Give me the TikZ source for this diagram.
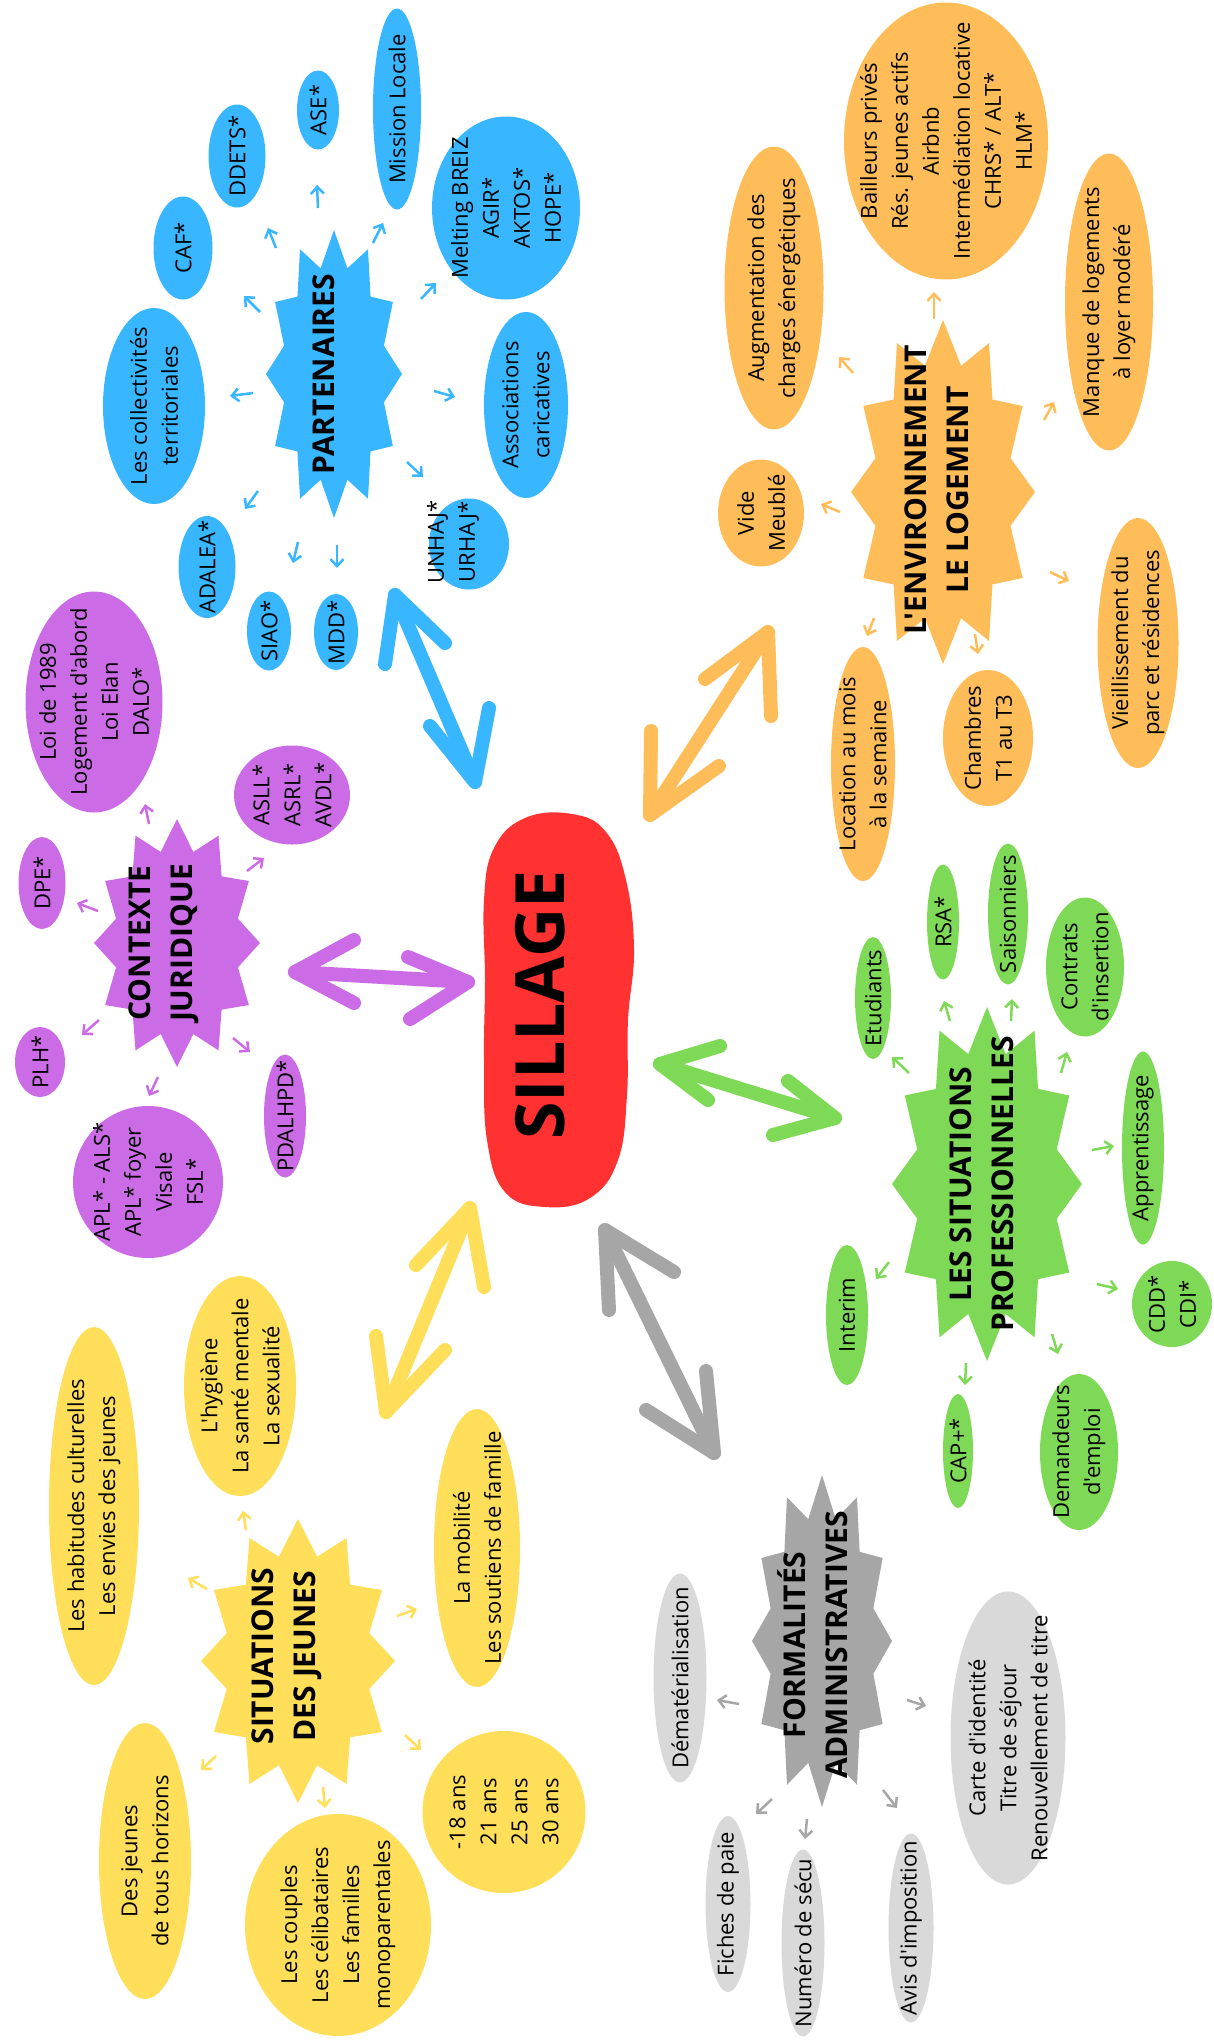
\documentclass[tikz,border=0pt]{standalone}
\usepackage{fontspec}
\setmainfont{Open Sans}[Ligatures=TeXOff]
\usetikzlibrary{shapes.geometric,arrows.meta,calc}
\definecolor{cblue}{HTML}{38B6FF}
\definecolor{corange}{HTML}{FFBD59}
\definecolor{cpurple}{HTML}{CB6CE6}
\definecolor{cgreen}{HTML}{7ED957}
\definecolor{cyellow}{HTML}{FFDE59}
\definecolor{cgray}{HTML}{A6A6A6}
\definecolor{clgray}{HTML}{D9D9D9}
\definecolor{cred}{HTML}{FF3131}
\tikzset{
  bubshape/.style={ellipse, draw=none, inner sep=0pt},
  txt/.style={rotate=90, align=center, inner sep=0pt, font=\fontsize{22}{31}\selectfont},
  ttl/.style={rotate=90, align=center, inner sep=0pt, font=\bfseries\fontsize{30}{42}\selectfont},
  sarr/.style={line width=2.5pt, -{Straight Barb[length=7pt,width=13pt]}},
  barr/.style={line width=14pt, line cap=round, line join=round},
}
% name, color, x, y, w, h, text
\newcommand\bub[7]{%
  \node[bubshape, fill=#2, minimum width=#5pt, minimum height=#6pt] (#1) at (#3,#4) {};
  \node[txt] (#1t) at (#1) {#7};}
% name, color, cx, cy, rx, ry
\newcommand\starfill[6]{%
  \coordinate (#1) at (#3,#4);
  \fill[#2] plot[samples at={0,...,23}, variable=\k]
    ({#3+#5*(mod(\k,2)==0 ? 1 : 0.76)*cos(\k*15)}, {#4+#6*(mod(\k,2)==0 ? 1 : 0.76)*sin(\k*15)}) -- cycle;}
\newcommand\sarw[3]{\draw[sarr] ($(#1)+(#2)$) -- ++(#3);}
% color, A, wA1, wA2, B, wB1, wB2
\newcommand\barw[7]{%
  \draw[barr,#1] (#3) -- (#2) -- (#4);
  \draw[barr,#1] (#2) -- (#5);
  \draw[barr,#1] (#6) -- (#5) -- (#7);}
\begin{document}
\begin{tikzpicture}[x=1pt,y=-1pt]
\fill[white] (0,0) rectangle (1213,2040);
\useasboundingbox (0,0) rectangle (1213,2040);

% ---------- SILLAGE ----------
\fill[cred] plot[smooth cycle, tension=0.7] coordinates {(525,818) (572,814) (606,832) (626,880) (634,950) (628,1020) (627,1095) (618,1160) (590,1198) (545,1207) (505,1192) (487,1140) (484,1060) (485,980) (484,900) (494,848)};
\node[rotate=90, inner sep=0pt, font=\bfseries\fontsize{68}{68}\selectfont] (sil) at (540,1005) {SILLAGE};

% ---------- PARTENAIRES (blue) ----------
\starfill{part}{cblue}{334}{374}{68}{144}
\node[ttl] (partt) at (324,374) {PARTENAIRES};
\bub{ml}{cblue}{397}{109}{48}{201}{Mission Locale}
\bub{ase}{cblue}{318}{110}{42}{79}{ASE*}
\bub{ddets}{cblue}{237}{156}{57}{103}{DDETS*}
\bub{caf}{cblue}{183}{248}{59}{103}{CAF*}
\bub{coll}{cblue}{154}{406}{102}{196}{Les collectivités\\territoriales}
\bub{adalea}{cblue}{207}{567}{57}{102}{ADALEA*}
\bub{siao}{cblue}{269}{631}{44}{79}{SIAO*}
\bub{mdd}{cblue}{336}{632}{44}{76}{MDD*}
\node[bubshape, fill=cblue, minimum width=80pt, minimum height=91pt] (unhaj) at (469,544) {};
\node[txt] (unhajt) at (453,542) {UNHAJ*\\URHAJ*};
\bub{assoc}{cblue}{526}{405}{84}{186}{Associations\\caricatives}
\bub{melt}{cblue}{506}{208}{148}{183}{Melting BREIZ\\AGIR*\\AKTOS*\\HOPE*}
\begin{scope}[cblue]
\sarw{part}{39,-131}{10,-20}
\sarw{part}{-16,-166}{-1,-23}
\sarw{part}{-58,-126}{-8,-20}
\sarw{part}{-74,-62}{-16,-16}
\sarw{part}{-81,19}{-23,3}
\sarw{part}{-76,117}{-13,18}
\sarw{part}{-36,168}{-5,21}
\sarw{part}{3,171}{0,23}
\sarw{part}{73,88}{16,15}
\sarw{part}{100,17}{21,6}
\sarw{part}{87,-75}{15,-16}
\end{scope}

% ---------- ENVIRONNEMENT (orange) ----------
\starfill{env}{corange}{943}{492}{92}{172}
\node[ttl] (envt) at (937,490) {L'ENVIRONNEMENT\\LE LOGEMENT};
\bub{bail}{corange}{946}{141}{204}{277}{Bailleurs privés\\Rés. jeunes actifs\\Airbnb\\Intermédiation locative\\CHRS* / ALT*\\HLM*}
\bub{aug}{corange}{774}{288}{99}{283}{Augmentation des\\charges énergétiques}
\bub{vide}{corange}{761}{513}{86}{107}{Vide\\Meublé}
\bub{manque}{corange}{1109}{302}{88}{297}{Manque de logements\\à loyer modéré}
\bub{vieil}{corange}{1138}{643}{81}{250}{Vieillissement du\\parc et résidences}
\bub{loc}{corange}{863}{764}{64}{234}{Location au mois\\à la semaine}
\bub{chamb}{corange}{988}{738}{90}{136}{Chambres\\T1 au T3}
\begin{scope}[corange]
\sarw{env}{-9,-173}{0,-27}
\sarw{env}{-90,-119}{-14,-16}
\sarw{env}{-103,20}{-19,-8}
\sarw{env}{101,-72}{10,-18}
\sarw{env}{107,80}{19,9}
\sarw{env}{-69,126}{-7,18}
\sarw{env}{32,142}{3,20}
\end{scope}

% ---------- CONTEXTE JURIDIQUE (purple) ----------
\starfill{ctx}{cpurple}{177}{943}{83}{124}
\node[ttl] (ctxt) at (164,943) {CONTEXTE\\JURIDIQUE};
\bub{loi}{cpurple}{94}{702}{137}{221}{Loi de 1989\\Logement d'abord\\Loi Elan\\DALO*}
\bub{dpe}{cpurple}{42}{883}{47}{92}{DPE*}
\bub{plh}{cpurple}{40}{1062}{50}{70}{PLH*}
\bub{apl}{cpurple}{148}{1182}{150}{152}{APL* - ALS*\\APL* foyer\\Visale\\FSL*}
\bub{pdal}{cpurple}{285}{1116}{42}{123}{PDALHPD*}
\bub{asll}{cpurple}{292}{795}{116}{99}{ASLL*\\ASRL*\\AVDL*}
\begin{scope}[cpurple]
\sarw{ctx}{-28,-119}{-4,-20}
\sarw{ctx}{-79,-32}{-21,-8}
\sarw{ctx}{-78,77}{-17,15}
\sarw{ctx}{-19,134}{-9,19}
\sarw{ctx}{56,95}{17,14}
\sarw{ctx}{70,-72}{17,-13}
\end{scope}

% ---------- SITUATIONS PROFESSIONNELLES (green) ----------
\starfill{pro}{cgreen}{987}{1184}{95}{177}
\node[ttl] (prot) at (982,1184) {LES SITUATIONS\\PROFESSIONNELLES};
\bub{etu}{cgreen}{873}{998}{36}{122}{Etudiants}
\bub{rsa}{cgreen}{943}{922}{32}{115}{RSA*}
\bub{sais}{cgreen}{1008}{914}{40}{141}{Saisonniers}
\bub{contr}{cgreen}{1085}{967}{78}{139}{Contrats\\d'insertion}
\bub{appr}{cgreen}{1143}{1148}{42}{193}{Apprentissage}
\bub{cdd}{cgreen}{1172}{1304}{80}{86}{CDD*\\CDI*}
\bub{inter}{cgreen}{847}{1315}{42}{140}{Interim}
\bub{cap}{cgreen}{958}{1451}{30}{114}{CAP+*}
\bub{dem}{cgreen}{1079}{1452}{78}{156}{Demandeurs\\d'emploi}
\begin{scope}[cgreen]
\sarw{pro}{-78,-111}{-17,-16}
\sarw{pro}{-37,-163}{-6,-20}
\sarw{pro}{24,-163}{1,-22}
\sarw{pro}{74,-111}{6,-21}
\sarw{pro}{105,-34}{22,-4}
\sarw{pro}{110,100}{21,5}
\sarw{pro}{-98,78}{-13,17}
\sarw{pro}{65,150}{6,20}
\sarw{pro}{-21,179}{-1,22}
\end{scope}

% ---------- SITUATIONS DES JEUNES (yellow) ----------
\starfill{jeu}{cyellow}{298}{1661}{97}{142}
\node[ttl] (jeut) at (287,1656) {SITUATIONS\\DES JEUNES};
\bub{habit}{cyellow}{94}{1506}{90}{358}{Les habitudes culturelles\\Les envies des jeunes}
\bub{hyg}{cyellow}{240}{1386}{112}{220}{L'hygiène\\La santé mentale\\La sexualité}
\bub{mob}{cyellow}{477}{1548}{86}{278}{La mobilité\\Les soutiens de famille}
\bub{desj}{cyellow}{145}{1861}{92}{276}{Des jeunes\\de tous horizons}
\bub{coup}{cyellow}{338}{1925}{186}{222}{Les couples\\Les célibataires\\Les familles\\monoparentales}
\bub{age}{cyellow}{504}{1812}{163}{162}{-18 ans\\21 ans\\25 ans\\30 ans}
\begin{scope}[cyellow]
\sarw{jeu}{-52,-131}{-3,-19}
\sarw{jeu}{-91,-72}{-19,-11}
\sarw{jeu}{99,-45}{20,-7}
\sarw{jeu}{107,74}{16,15}
\sarw{jeu}{25,126}{2,21}
\sarw{jeu}{-82,95}{-15,14}
\end{scope}

% ---------- FORMALITES ADMINISTRATIVES (gray) ----------
\starfill{form}{cgray}{822}{1641}{70}{166}
\node[ttl] (formt) at (813,1645) {FORMALITÉS\\ADMINISTRATIVES};
\bub{demat}{clgray}{680}{1678}{53}{209}{Dématérialisation}
\bub{fiche}{clgray}{728}{1904}{45}{176}{Fiches de paie}
\bub{num}{clgray}{803}{1943}{43}{187}{Numéro de sécu}
\bub{avis}{clgray}{911}{1928}{45}{189}{Avis d'imposition}
\bub{carte}{clgray}{1008}{1738}{115}{293}{Carte d'identité\\Titre de séjour\\Renouvellement de titre}
\begin{scope}[cgray]
\sarw{form}{-83,63}{-22,-4}
\sarw{form}{-50,158}{-16,15}
\sarw{form}{-15,178}{-2,20}
\sarw{form}{61,149}{14,18}
\sarw{form}{85,59}{19,6}
\end{scope}

% ---------- big double arrows ----------
\coordinate (blA) at (395,595); \coordinate (blB) at (475,782);
\barw{cblue}{blA}{385,664}{445,643}{blB}{489,708}{430,726}
\coordinate (orA) at (768,632); \coordinate (orB) at (650,815);
\barw{corange}{orA}{705,679}{771,716}{orB}{651,731}{719,766}
\coordinate (puA) at (295,972); \coordinate (puB) at (468,982);
\barw{cpurple}{puA}{354,940}{354,1003}{puB}{408,957}{410,1019}
\coordinate (grA) at (660,1064); \coordinate (grB) at (835,1118);
\barw{cgreen}{grA}{720,1046}{708,1100}{grB}{788,1081}{773,1135}
\coordinate (yeA) at (470,1208); \coordinate (yeB) at (386,1412);
\barw{cyellow}{yeA}{416,1265}{484,1287}{yeB}{376,1336}{445,1350}
\coordinate (gyA) at (605,1230); \coordinate (gyB) at (714,1453);
\barw{cgray}{gyA}{609,1310}{674,1272}{gyB}{706,1371}{646,1410}
\end{tikzpicture}
\end{document}
